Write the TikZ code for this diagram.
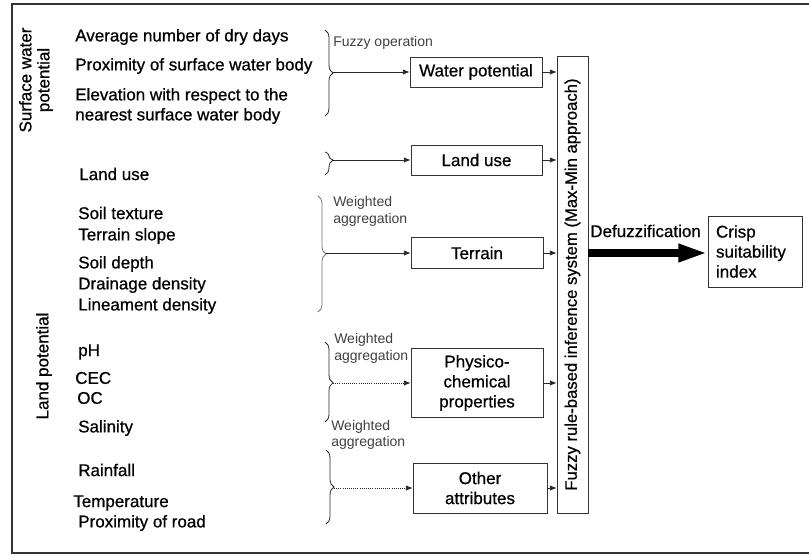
\documentclass[tikz,border=0pt]{standalone}
\usepackage{fontspec}
\setmainfont{Liberation Sans}
\newfontfamily\heavyfont{Liberation Sans}[FakeBold=0.7]
\usetikzlibrary{arrows.meta,decorations.pathreplacing}
\begin{document}
\begin{tikzpicture}[x=0.75pt,y=-0.75pt,
  mainfont/.style={font=\heavyfont\fontsize{12.75}{15}\selectfont},
  lbl/.style={anchor=west,inner sep=0pt,align=left,mainfont},
  small/.style={anchor=west,inner sep=0pt,align=left,font=\fontsize{10.5}{12.5}\selectfont,text=black!75},
  box/.style={draw=black!80,line width=0.6pt,inner sep=0pt,align=center,mainfont},
  brc/.style={draw=black!85,line width=0.6pt,decorate,decoration={brace,amplitude=6pt,#1}},
  brc/.default={aspect=0.5},
  arr/.style={-{Latex[length=5pt,width=4pt]},line width=0.6pt,draw=black!85},
]
\useasboundingbox (0,0) rectangle (809,556);
% frame
\draw[line width=1.2pt,black!80] (809,4) -- (12,4) -- (12,553) -- (809,553);

% rotated group labels
\node[rotate=90,inner sep=0pt,align=center,font=\heavyfont\fontsize{12.75}{13.5}\selectfont] (swp) at (36,80) {Surface water\\potential};
\node[rotate=90,inner sep=0pt,mainfont] (lp) at (44,366) {Land potential};

% left items
\node[lbl] (i1) at (75,37) {Average number of dry days};
\node[lbl] (i2) at (75,66) {Proximity of surface water body};
\node[lbl] (i3) at (75,106) {Elevation with respect to the\\nearest surface water body};
\node[lbl] (i4) at (79,174) {Land use};
\node[lbl] (i5) at (78,213) {Soil texture};
\node[lbl] (i6) at (78,236) {Terrain slope};
\node[lbl] (i7) at (78,264) {Soil depth};
\node[lbl] (i8) at (78,285) {Drainage density};
\node[lbl] (i9) at (78,306) {Lineament density};
\node[lbl] (i10) at (78,352) {pH};
\node[lbl] (i11) at (75,378) {CEC};
\node[lbl] (i12) at (77,398) {OC};
\node[lbl] (i13) at (78,428) {Salinity};
\node[lbl] (i14) at (78,470) {Rainfall};
\node[lbl] (i15) at (73,503) {Temperature};
\node[lbl] (i16) at (78,523) {Proximity of road};

% intermediate boxes
\node[box,minimum width=99pt,minimum height=22.5pt] (wp) at (476,72) {Water potential};
\node[box,minimum width=98.25pt,minimum height=22.5pt] (lu) at (476.5,160) {Land use};
\node[box,minimum width=99pt,minimum height=23.25pt] (ter) at (477,253) {Terrain};
\node[box,minimum width=99pt,minimum height=51.75pt] (phy) at (477,383) {Physico-\\chemical\\properties};
\node[box,minimum width=100.5pt,minimum height=37.5pt] (oth) at (480,488) {Other\\attributes};

% fuzzy inference system
\node[draw=black!80,line width=0.6pt,minimum width=23.25pt,minimum height=342.75pt,inner sep=0pt] (fis) at (572.5,284.5) {};
\node[rotate=90,inner sep=0pt,font=\heavyfont\fontsize{12.5}{15}\selectfont] (fist) at (fis.center) {Fuzzy rule-based inference system (Max-Min approach)};

% crisp output
\node[draw=black!80,line width=0.6pt,minimum height=53.25pt,text width=58.5pt,inner xsep=6pt,inner ysep=0pt,align=left,mainfont] (crisp) at (755,251.5) {Crisp\\suitability\\index};

% small labels
\node[small] (fo) at (333,43) {Fuzzy operation};
\node[small,font=\fontsize{10.5}{12.75}\selectfont] (wa1) at (333,211.5) {Weighted\\aggregation};
\node[small,font=\fontsize{10.5}{12.75}\selectfont] (wa2) at (334,348.5) {Weighted\\aggregation};
\node[small,font=\fontsize{10.5}{12}\selectfont] (wa3) at (331,435) {Weighted\\aggregation};

% braces
\coordinate (b1t) at (325,30);  \coordinate (b1b) at (325,116);
\coordinate (b2t) at (325,152); \coordinate (b2b) at (325,175);
\coordinate (b3t) at (318,196); \coordinate (b3b) at (318,312);
\coordinate (b4t) at (325,342); \coordinate (b4b) at (325,422);
\coordinate (b5t) at (326,450); \coordinate (b5b) at (326,524);
\draw[brc] (b1t) -- (b1b);
\draw[brc={aspect=0.35}] (b2t) -- (b2b);
\draw[brc,draw=black!55] (b3t) -- (b3b);
\draw[brc={aspect=0.51}] (b4t) -- (b4b);
\draw[brc={aspect=0.5}] (b5t) -- (b5b);
\coordinate (t1) at (333,72);
\coordinate (t2) at (333,160);
\coordinate (t3) at (326,253);
\coordinate (t4) at (333,383);
\coordinate (t5) at (334,488);

% arrows brace -> box
\draw[arr] (t1) -- (wp.west);
\draw[arr] (t2) -- (lu.west);
\draw[arr] (t3) -- (ter.west);
\draw[arr,densely dotted] (t4) -- (phy.west);
\draw[arr,densely dotted] (t5) -- (oth.west);

% arrows box -> FIS
\draw[arr] (wp.east) -- (wp.east -| fis.west);
\draw[arr] (lu.east) -- (lu.east -| fis.west);
\draw[arr] (ter.east) -- (ter.east -| fis.west);
\draw[arr] (phy.east) -- (phy.east -| fis.west);
\draw[arr] (oth.east) -- (oth.east -| fis.west);

% defuzzification
\draw[line width=5.5pt,-{Triangle[length=22pt,width=12.5pt]}] (ter.east -| fis.east) -- (crisp.west |- ter.east);
\node[lbl] (dz) at (590,231) {Defuzzification};
\end{tikzpicture}
\end{document}
